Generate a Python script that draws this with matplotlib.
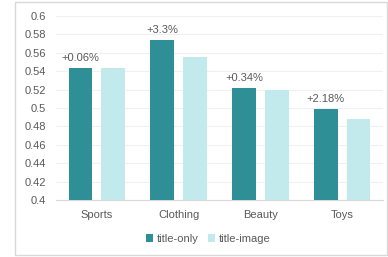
import matplotlib
matplotlib.use("Agg")
import matplotlib.pyplot as plt
import numpy as np
from matplotlib.patches import Rectangle

categories = ["Sports", "Clothing", "Beauty", "Toys"]
title_only = [0.5435, 0.5736, 0.5214, 0.4989]
title_image = [0.5431, 0.5550, 0.5196, 0.4880]
gain_labels = ["+0.06%", "+3.3%", "+0.34%", "+2.18%"]
yticks = [0.4, 0.42, 0.44, 0.46, 0.48, 0.5, 0.52, 0.54, 0.56, 0.58, 0.6]
ytick_labels = ["0.4", "0.42", "0.44", "0.46", "0.48", "0.5", "0.52", "0.54", "0.56", "0.58", "0.6"]

dark = "#2e8f96"
light = "#c2e9eb"
txt = "#595959"

plt.rcParams["font.family"] = ["Liberation Sans", "DejaVu Sans"]

fig = plt.figure(figsize=(3.88, 2.57), dpi=100)
fig.patches.append(Rectangle((15/388, 2/257), 372/388, 253/257, transform=fig.transFigure,
                             fill=False, edgecolor="#d9d9d9", linewidth=1.0))
ax = fig.add_axes([56/388, 1-200/257, 327/388, 184/257])

x = np.arange(len(categories))
w = 0.29
ax.bar(x - 0.2, title_only, width=w, color=dark, label="title-only", zorder=3)
ax.bar(x + 0.2, title_image, width=w, color=light, label="title-image", zorder=3)

for xi, v, lab in zip(x, title_only, gain_labels):
    ax.annotate(lab, (xi - 0.2, v), xytext=(0, 3.5), textcoords="offset points",
                ha="center", va="bottom", fontsize=8, color=txt)

ax.set_ylim(0.4, 0.6)
ax.set_xlim(-0.5, 3.5)
ax.set_yticks(yticks)
ax.set_yticklabels(ytick_labels)
ax.set_xticks(x)
ax.set_xticklabels(categories)
ax.tick_params(axis="both", length=0, labelsize=8, colors=txt)
ax.tick_params(axis="y", pad=7)
ax.tick_params(axis="x", pad=7.5)
ax.grid(axis="y", color="#f0f0f0", linewidth=0.8, zorder=0)
for s in ["top", "right", "left"]:
    ax.spines[s].set_visible(False)
ax.spines["bottom"].set_color("#d9d9d9")

ax.legend(loc="center", bbox_to_anchor=(0.465, -0.21), ncol=2, frameon=False,
          fontsize=8, labelcolor=txt, handlelength=0.7, handleheight=0.7,
          handletextpad=0.3, columnspacing=0.8)

fig.savefig("out.png", dpi=100)
